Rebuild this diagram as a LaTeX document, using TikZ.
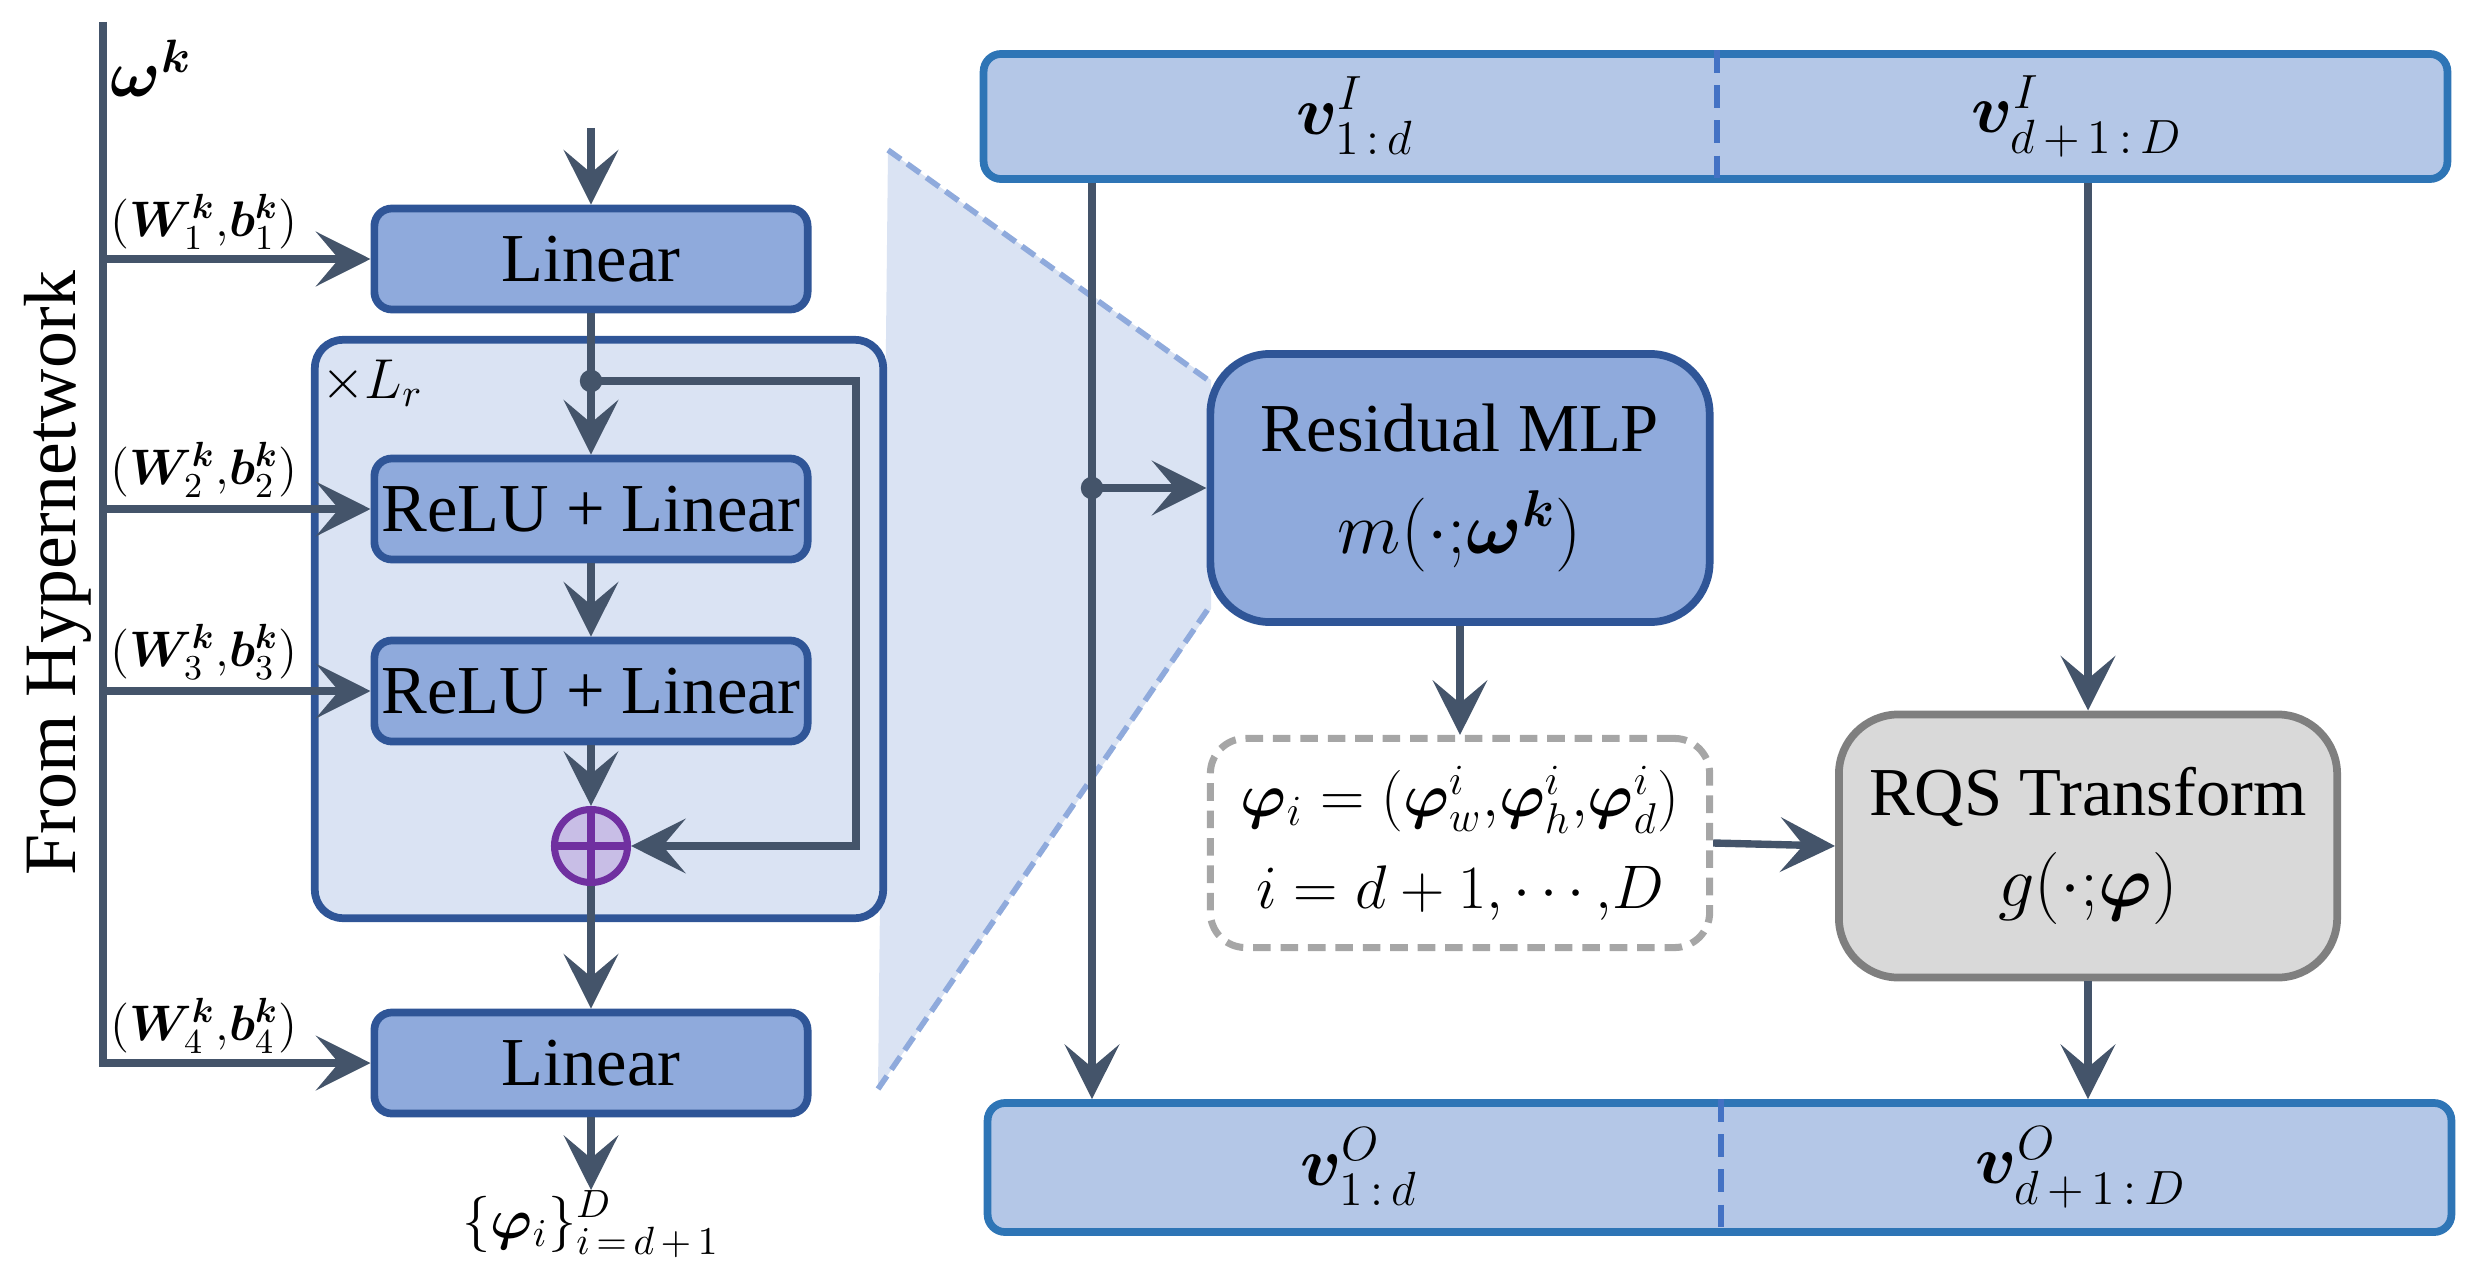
\RequirePackage{fix-cm}
\documentclass[tikz,border=0pt]{standalone}
\usepackage{amsmath,bm}
\usepackage[no-math]{fontspec}
\setmainfont{Liberation Serif}
\usetikzlibrary{arrows.meta}
\definecolor{boxfill}{HTML}{8FAADC}
\definecolor{boxdraw}{HTML}{2F5597}
\definecolor{contfill}{HTML}{DAE3F3}
\definecolor{barfill}{HTML}{B4C7E7}
\definecolor{bardraw}{HTML}{2E75B6}
\definecolor{divcol}{HTML}{4472C4}
\definecolor{arrcol}{HTML}{44546A}
\definecolor{pluscol}{HTML}{7030A0}
\definecolor{plusfill}{HTML}{C8BEE6}
\definecolor{dashcol}{HTML}{A6A6A6}
\definecolor{rqsfill}{HTML}{D9D9D9}
\definecolor{rqsdraw}{HTML}{7F7F7F}
\definecolor{zoomline}{HTML}{8FAADC}
\tikzset{
  blk/.style={draw=boxdraw, fill=boxfill, line width=2.2pt, rounded corners=5pt,
    minimum width=4.33cm, minimum height=1.01cm, inner sep=0pt,
    font=\fontsize{19.5}{23}\selectfont},
  cont/.style={draw=boxdraw, fill=contfill, line width=2.2pt, rounded corners=8pt,
    minimum width=5.68cm, minimum height=5.78cm, inner sep=0pt},
  bigblk/.style={draw=boxdraw, fill=boxfill, line width=2.2pt, rounded corners=17pt,
    minimum width=4.99cm, minimum height=2.68cm, inner sep=0pt, align=center,
    font=\fontsize{19.5}{29}\selectfont},
  dashbox/.style={draw=dashcol, fill=white, line width=2pt, rounded corners=10pt,
    dash pattern=on 5pt off 2.8pt,
    minimum width=4.99cm, minimum height=2.09cm, inner sep=0pt, align=center,
    font=\fontsize{17.5}{26}\selectfont},
  rqsbox/.style={draw=rqsdraw, fill=rqsfill, line width=2.2pt, rounded corners=17pt,
    minimum width=4.98cm, minimum height=2.63cm, inner sep=0pt, align=center,
    font=\fontsize{19.5}{26}\selectfont},
  bar/.style={draw=bardraw, fill=barfill, line width=2.2pt, rounded corners=5pt,
    minimum width=14.63cm, minimum height=1.25cm, inner sep=0pt},
  divider/.style={draw=divcol, line width=1.8pt, dash pattern=on 6.5pt off 3.5pt},
  vlab/.style={inner sep=0pt, font=\fontsize{19.5}{23}\selectfont},
  wlab/.style={inner sep=0pt, font=\fontsize{14.2}{17}\selectfont},
  plusnode/.style={circle, draw=pluscol, fill=plusfill, line width=2pt,
    minimum size=0.73cm, inner sep=0pt},
  ln/.style={draw=arrcol, line width=2.1pt},
  arr/.style={draw=arrcol, line width=2.1pt,
    -{Stealth[length=15.5pt,width=15.5pt,inset=6.5pt]}},
  zoomln/.style={draw=zoomline, line width=1.6pt, dash pattern=on 4.5pt off 2.2pt},
}
\begin{document}
\begin{tikzpicture}[x=0.01cm,y=-0.01cm]
\useasboundingbox (0,0) rectangle (2482,1288);

% zoom shading
\fill[contfill] (888,150) -- (1211,380) -- (1211,609) -- (878,1089) -- cycle;
\draw[zoomln] (888,150) -- (1208,380);
\draw[zoomln] (878,1089) -- (1208,609);

% ---------- left part ----------
\coordinate (hn) at (103,22);
\node[inner sep=0pt, anchor=west, font=\fontsize{19}{23}\selectfont] (omega) at (110,68) {$\bm{\omega}^{\bm{k}}$};
\node[rotate=90, inner sep=0pt, font=\fontsize{21}{25}\selectfont] (from) at (58,573) {From Hypernetwork};

\node[cont] (cont) at (599,629) {};
\node[inner sep=0pt, font=\fontsize{16}{19}\selectfont] (lr) at (372,383) {$\times L_r$};

\node[blk] (lin1) at (591,259) {Linear};
\node[blk] (relu1) at (591,509) {ReLU + Linear};
\node[blk] (relu2) at (591,691) {ReLU + Linear};
\node[plusnode] (plus) at (591,846) {};
\draw[draw=pluscol, line width=2pt] (plus.north) -- (plus.south) (plus.west) -- (plus.east);
\node[blk] (lin2) at (591,1063) {Linear};
\node[inner sep=0pt, anchor=north, font=\fontsize{16}{19}\selectfont] (out) at (591,1190) {$\{\bm{\varphi}_i\}_{i\,=\,d\,+\,1}^{D}$};

\coordinate (in) at (591,128);
\coordinate (split) at (591,381);
\coordinate (fb) at (856,381);

\draw[arr] (in) -- (lin1.north);
\draw[ln] (lin1.south) -- (split);
\draw[arr] (split) -- (relu1.north);
\draw[arr] (relu1.south) -- (relu2.north);
\draw[arr] (relu2.south) -- (plus.north);
\draw[arr] (split) -- (fb) |- (plus.east);
\fill[arrcol] (split) circle (3.2pt);
\draw[arr] (plus.south) -- (lin2.north);
\draw[arr] (lin2.south) -- (out.north);

% hypernetwork line and inputs
\draw[arr] (hn) |- (lin2.west);
\draw[arr] (hn |- lin1.west) -- (lin1.west);
\draw[arr] (hn |- relu1.west) -- (relu1.west);
\draw[arr] (hn |- relu2.west) -- (relu2.west);
\node[wlab] (w1) at (204,222) {$(\bm{W}_1^{\bm{k}}{,}\bm{b}_1^{\bm{k}})$};
\node[wlab] (w2) at (204,470) {$(\bm{W}_2^{\bm{k}}{,}\bm{b}_2^{\bm{k}})$};
\node[wlab] (w3) at (204,652) {$(\bm{W}_3^{\bm{k}}{,}\bm{b}_3^{\bm{k}})$};
\node[wlab] (w4) at (204,1026) {$(\bm{W}_4^{\bm{k}}{,}\bm{b}_4^{\bm{k}})$};

% ---------- right part ----------
\node[bar] (topbar) at (1715.5,116.5) {};
\coordinate (tdiv) at (1717,0);
\draw[divider] (topbar.north -| tdiv) -- (topbar.south -| tdiv);
\node[vlab] (vi1) at (1355,116) {$\bm{v}^{I}_{1\,:\,d}$};
\node[vlab] (vi2) at (2077,116) {$\bm{v}^{I}_{d\,+\,1\,:\,D}$};

\node[bar, minimum height=1.29cm] (botbar) at (1719.5,1167.5) {};
\coordinate (bdiv) at (1721,0);
\draw[divider] (botbar.north -| bdiv) -- (botbar.south -| bdiv);
\node[vlab] (vo1) at (1359,1167) {$\bm{v}^{O}_{1\,:\,d}$};
\node[vlab] (vo2) at (2081,1167) {$\bm{v}^{O}_{d\,+\,1\,:\,D}$};

\node[bigblk] (mlp) at (1460,488) {Residual MLP\\{\fontsize{21}{25}\selectfont $m(\cdot{;}\bm{\omega}^{\bm{k}})$}};
\node[dashbox] (phi) at (1460,843) {$\bm{\varphi}_i=(\bm{\varphi}_w^i{,}\bm{\varphi}_h^i{,}\bm{\varphi}_d^i)$\\$i=d+1,\cdots{,}D$};
\node[rqsbox] (rqs) at (2088,846) {RQS Transform\\{\fontsize{20.5}{24}\selectfont $g(\cdot{;}\bm{\varphi})$}};

\coordinate (vx) at (1092,0);
\draw[arr] (topbar.south -| vx) -- (botbar.north -| vx);
\draw[arr] (vx |- mlp.west) -- (mlp.west);
\fill[arrcol] (vx |- mlp.west) circle (3.2pt);
\draw[arr] (mlp.south) -- (phi.north);
\draw[arr] (phi.east) -- (rqs.west);
\draw[arr] (topbar.south -| rqs.north) -- (rqs.north);
\draw[arr] (rqs.south) -- (botbar.north -| rqs.south);
\end{tikzpicture}
\end{document}
